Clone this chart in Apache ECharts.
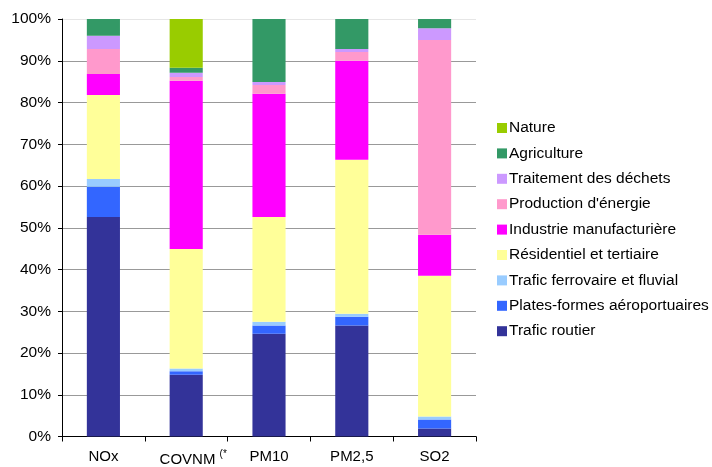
<!DOCTYPE html>
<html>
<head>
<meta charset="utf-8">
<script src="https://cdn.jsdelivr.net/npm/echarts@6/dist/echarts.min.js"></script>
<style>
  html, body { margin: 0; padding: 0; background: #ffffff; }
  #chart { width: 712px; height: 467px; }
</style>
</head>
<body>
<div id="chart"></div>
<script>
// Pollutants on the x axis
const categories = ['NOx', 'COVNM', 'PM10', 'PM2,5', 'SO2'];

// Share of emissions per sector (%), one array per sector, in pollutant order
const traficRoutier      = [52.6, 14.8, 24.6, 26.6, 1.9];
const platesFormes       = [7.2, 0.8, 2.0, 2.1, 2.2];
const traficFerroviaire  = [1.9, 0.7, 0.9, 0.7, 0.7];
const residentiel        = [20.1, 28.6, 25.1, 36.9, 33.7];
const industrie          = [5.0, 40.3, 29.5, 23.7, 9.8];
const productionEnergie  = [6.0, 0.9, 2.1, 2.1, 46.7];
const traitementDechets  = [3.2, 1.0, 0.7, 0.7, 2.8];
const agriculture        = [4.0, 1.2, 15.1, 7.2, 2.2];
const nature             = [0, 11.7, 0, 0, 0];

const yTicks = [0, 10, 20, 30, 40, 50, 60, 70, 80, 90, 100];

// Stacked bottom to top
const sectors = [
  { name: 'Trafic routier', data: traficRoutier, color: '#333399' },
  { name: 'Plates-formes aéroportuaires', data: platesFormes, color: '#3366ff' },
  { name: 'Trafic ferrovaire et fluvial', data: traficFerroviaire, color: '#99ccff' },
  { name: 'Résidentiel et tertiaire', data: residentiel, color: '#ffff99' },
  { name: 'Industrie manufacturière', data: industrie, color: '#ff00ff' },
  { name: "Production d'énergie", data: productionEnergie, color: '#ff99cc' },
  { name: 'Traitement des déchets', data: traitementDechets, color: '#cc99ff' },
  { name: 'Agriculture', data: agriculture, color: '#339966' },
  { name: 'Nature', data: nature, color: '#99cc00' }
];

const font = 'Liberation Sans, Arial, sans-serif';
const chart = echarts.init(document.getElementById('chart'), null, { renderer: 'canvas' });

const gridColors = yTicks.map((v, i) => i === yTicks.length - 1 ? '#e6e6e6' : '#999999');

chart.setOption({
  animation: false,
  backgroundColor: '#ffffff',
  grid: { left: 62, right: 236, top: 19, bottom: 30, containLabel: false },
  legend: {
    orient: 'vertical',
    left: 492,
    top: 115,
    itemWidth: 10,
    itemHeight: 10,
    itemGap: 9.4,
    icon: 'rect',
    data: sectors.map(s => s.name).reverse(),
    textStyle: { fontFamily: font, fontSize: 15.5, color: '#000000', lineHeight: 15, padding: [0, 0, 0, -3] }
  },
  xAxis: {
    type: 'category',
    data: categories,
    axisLine: { lineStyle: { color: '#000000', width: 1 } },
    axisTick: { show: true, alignWithLabel: false, length: 5, lineStyle: { color: '#000000' } },
    axisLabel: {
      interval: 0,
      margin: 13,
      fontFamily: font,
      fontSize: 15,
      color: '#000000',
      // the footnote mark sits to the right of the centred name
      formatter: v => v === 'COVNM' ? '{pad|}COVNM {sup|(*}' : v,
      rich: {
        pad: { width: 14 },
        sup: { fontFamily: font, fontSize: 10, color: '#000000', verticalAlign: 'top', padding: [0, 0, 10, 0] }
      }
    }
  },
  yAxis: {
    type: 'value',
    min: 0,
    max: 100,
    interval: 10,
    axisLine: { show: true, lineStyle: { color: '#000000', width: 1 } },
    axisTick: { show: true, length: 4, lineStyle: { color: '#000000' } },
    axisLabel: {
      margin: 11,
      fontFamily: font,
      fontSize: 15.5,
      color: '#000000',
      formatter: v => v + '%'
    },
    splitLine: { show: true, lineStyle: { color: gridColors, width: 1 } }
  },
  series: sectors.map(s => ({
    name: s.name,
    type: 'bar',
    stack: 'total',
    data: s.data,
    barWidth: '40%',
    itemStyle: { color: s.color },
    emphasis: { disabled: true }
  }))
});
</script>
</body>
</html>
